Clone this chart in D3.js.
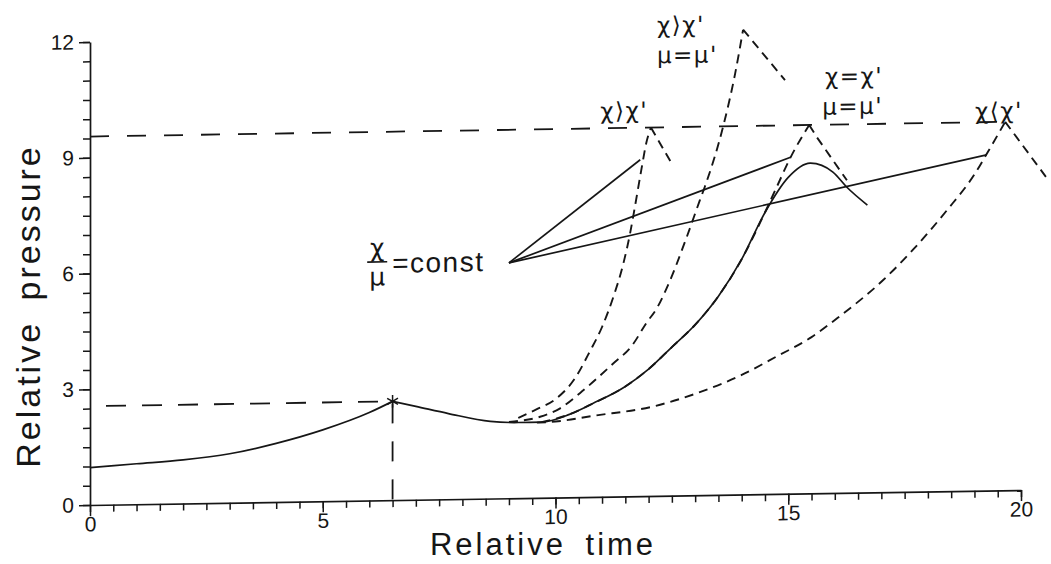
<!DOCTYPE html>
<html>
<head>
<meta charset="utf-8">
<script src="https://cdn.jsdelivr.net/npm/d3@7"></script>
<style>
  html, body { margin: 0; padding: 0; background: #fff; }
  svg { display: block; }
</style>
</head>
<body>
<svg id="chart" width="1051" height="564"></svg>
<script>
// ---- data: relative time (t) vs relative pressure (p) ----
const xTicks = [0, 5, 10, 15, 20];
const yTicks = [0, 3, 6, 9, 12];

// measured pressure history (solid)
const measuredRise = [[0,0.97],[1,1.05],[2,1.13],[3,1.27],[4,1.52],[5,1.85],[6,2.28],[6.5,2.56]];
const measuredLater = [[6.5,2.56],[7,2.42],[7.7,2.22],[8.6,2.0],[9.2,1.96],[9.7,1.96],[10.3,2.15],[10.8,2.42],
  [11.5,2.85],[12,3.29],[12.5,3.85],[13,4.42],[13.5,5.15],[14,6.1],[14.5,7.3],[15,8.2],[15.47,8.56],
  [15.96,8.32],[16.26,7.92],[16.7,7.45]];

// computed histories (dashed): rise up to the peak, then the fall
const chiGreaterRise = [[9.2,2.08],[9.6,2.3],[10.0,2.55],[10.4,3.05],[10.75,3.8],[11.0,4.4],[11.25,5.2],
  [11.45,6.0],[11.6,6.8],[11.72,7.6],[11.85,8.5],[11.95,9.15],[12.05,9.55]];
const chiGreaterFall = [[12.05,9.55],[12.5,8.6]];

const chiGreaterMuEqRise = [[9.0,1.98],[9.67,2.1],[10.1,2.31],[10.53,2.7],[11.24,3.45],[11.64,3.9],[11.96,4.5],
  [12.17,4.85],[12.45,5.55],[12.82,6.7],[13.1,7.64],[13.21,8.0],[13.6,9.54],[13.86,10.92],[14.03,12.05]];
const chiGreaterMuEqFall = [[14.03,12.05],[14.93,10.72]];

const chiEqualRise = [[9.7,1.96],[10.3,2.15],[10.8,2.42],[11.5,2.85],[12,3.29],[12.5,3.85],[13,4.42],[13.5,5.15],
  [14,6.1],[14.4,7.05],[14.75,7.95],[15.05,8.72],[15.45,9.55]];
const chiEqualFall = [[15.45,9.55],[15.62,9.22],[16.26,8.1]];

const chiLessRise = [[9.6,1.95],[10.0,1.97],[10.8,2.1],[12.1,2.32],[13.1,2.67],[14.0,3.1],[14.76,3.57],[15.5,4.05],
  [16.05,4.53],[17.04,5.5],[17.7,6.3],[18.4,7.27],[19.0,8.2],[19.3,8.8],[19.66,9.55]];
const chiLessFall = [[19.66,9.55],[20.6,8.0]];

// chi/mu = const rays
const rayOrigin = [9.0, 6.1];
const rayEnds = [[11.82,8.72],[15.05,8.72],[19.26,8.7]];

// reference levels
const firstPeak = [6.5, 2.56];
const maxPressure = 9.55;
const maxPressureEnd = 19.62;

// annotation text and anchor (t, p)
const annotations = [
  { text: "χ⟩χ'", at: [10.96, 10.0] },
  { text: "χ⟩χ'", at: [12.18, 12.2] },
  { text: "μ=μ'", at: [12.18, 11.42] },
  { text: "χ=χ'", at: [15.79, 10.8] },
  { text: "μ=μ'", at: [15.73, 10.02] },
  { text: "χ⟨χ'", at: [19.01, 9.84] }
];
const ratioLabel = { num: "χ", den: "μ", rest: "=const", at: [6.17, 6.18] };

// ---- layout ----
const svg = d3.select("#chart");
const ink = "#161616";
const x = d3.scaleLinear().domain([0, 20]).range([0, 931]);
const y = d3.scaleLinear().domain([0, 12]).range([463, 0]);

// the plotted sheet is slightly sheared
const g = svg.append("g").attr("transform", "translate(90,42) skewY(-0.92)");

const tickFont = "'Liberation Sans', Arial, sans-serif";

// x axis: minor ticks every 0.5, labelled majors
const minorX = d3.range(0, 20.001, 0.5);
g.append("g").attr("transform", `translate(0,${y(0)})`)
  .call(d3.axisBottom(x).tickValues(minorX).tickSize(7).tickSizeOuter(0).tickFormat(""));
const xMajor = g.append("g").attr("transform", `translate(0,${y(0)})`)
  .call(d3.axisBottom(x).tickValues(xTicks).tickSize(11).tickSizeOuter(0).tickFormat(d3.format("d")));
xMajor.select(".domain").remove();
xMajor.selectAll("text").attr("y", 11).attr("dy", "0.74em");

const minorY = d3.range(0, 12.001, 0.5);
g.append("g")
  .call(d3.axisLeft(y).tickValues(minorY).tickSize(7).tickSizeOuter(0).tickFormat(""));
const yMajor = g.append("g")
  .call(d3.axisLeft(y).tickValues(yTicks).tickSize(11).tickSizeOuter(0).tickFormat(d3.format("d")));
yMajor.select(".domain").remove();
yMajor.selectAll("text").attr("x", -16);

g.selectAll(".domain").attr("stroke", ink).attr("stroke-width", 1.7);
g.selectAll(".tick line").attr("stroke", ink).attr("stroke-width", 1.5);
g.selectAll(".tick text").attr("fill", ink).attr("font-family", tickFont).attr("font-size", 21);

// reference dashed guides
g.append("line")
  .attr("x1", x(0)).attr("x2", x(maxPressureEnd))
  .attr("y1", y(maxPressure)).attr("y2", y(maxPressure))
  .attr("stroke", ink).attr("stroke-width", 1.8).attr("stroke-dasharray", "19,18");
g.append("line")
  .attr("x1", x(0)).attr("x2", x(firstPeak[0]))
  .attr("y1", y(firstPeak[1])).attr("y2", y(firstPeak[1]))
  .attr("stroke", ink).attr("stroke-width", 1.8).attr("stroke-dasharray", "20,16").attr("stroke-dashoffset", 20);
g.append("line")
  .attr("x1", x(firstPeak[0])).attr("x2", x(firstPeak[0]))
  .attr("y1", y(firstPeak[1])).attr("y2", y(0))
  .attr("stroke", ink).attr("stroke-width", 1.8).attr("stroke-dasharray", "20,18").attr("stroke-dashoffset", -2);

// curve helpers: smooth rise, straight fall
const smooth = d3.line().x(d => x(d[0])).y(d => y(d[1])).curve(d3.curveMonotoneX);
const straight = d3.line().x(d => x(d[0])).y(d => y(d[1]));

function drawPath(d, dashed) {
  g.append("path")
    .attr("d", d)
    .attr("fill", "none")
    .attr("stroke", ink)
    .attr("stroke-width", dashed ? 1.9 : 1.7)
    .attr("stroke-linejoin", "round")
    .attr("stroke-dasharray", dashed ? "9,6" : null);
}

// computed curves
[[chiGreaterRise, chiGreaterFall], [chiGreaterMuEqRise, chiGreaterMuEqFall],
 [chiEqualRise, chiEqualFall], [chiLessRise, chiLessFall]].forEach(([rise, fall]) => {
  drawPath(smooth(rise) + straight(fall), true);
});

// measured curve
drawPath(smooth(measuredRise), false);
drawPath(smooth(measuredLater), false);

// chi/mu = const rays
rayEnds.forEach(end => drawPath(straight([rayOrigin, end]), false));

// first-peak marker
const star = d3.symbol().type(d3.symbolAsterisk || d3.symbolCross).size(110);
g.append("path")
  .attr("d", star())
  .attr("transform", `translate(${x(firstPeak[0])},${y(firstPeak[1])})`)
  .attr("fill", "none").attr("stroke", ink).attr("stroke-width", 1.5);

// annotations
const greekFont = "'DejaVu Sans', 'Noto Sans', sans-serif";
g.selectAll("text.note").data(annotations).join("text")
  .attr("class", "note")
  .attr("x", d => x(d.at[0])).attr("y", d => y(d.at[1]))
  .attr("dominant-baseline", "central")
  .attr("font-family", greekFont).attr("font-size", 23)
  .attr("letter-spacing", 1.5)
  .attr("fill", ink)
  .text(d => d.text);

// chi over mu fraction
const rx = x(ratioLabel.at[0]), ry = y(ratioLabel.at[1]);
g.append("text").attr("x", rx).attr("y", ry - 14).attr("text-anchor", "middle")
  .attr("dominant-baseline", "central")
  .attr("font-family", greekFont).attr("font-size", 25).attr("fill", ink).text(ratioLabel.num);
g.append("line").attr("x1", rx - 10).attr("x2", rx + 10).attr("y1", ry).attr("y2", ry)
  .attr("stroke", ink).attr("stroke-width", 1.6);
g.append("text").attr("x", rx).attr("y", ry + 15).attr("text-anchor", "middle")
  .attr("dominant-baseline", "central")
  .attr("font-family", greekFont).attr("font-size", 25).attr("fill", ink).text(ratioLabel.den);
g.append("text").attr("x", rx + 15).attr("y", ry + 11)
  .attr("font-family", tickFont).attr("font-size", 28).attr("letter-spacing", 1.5)
  .attr("fill", ink).text(ratioLabel.rest);

// axis titles
svg.append("text")
  .attr("x", 543).attr("y", 555).attr("text-anchor", "middle")
  .attr("font-family", tickFont).attr("font-size", 31)
  .attr("letter-spacing", 3).attr("word-spacing", 8)
  .attr("fill", ink).text("Relative time");
svg.append("text")
  .attr("transform", "translate(40,306) rotate(-90)").attr("text-anchor", "middle")
  .attr("font-family", tickFont).attr("font-size", 34)
  .attr("letter-spacing", 3).attr("word-spacing", 8)
  .attr("fill", ink).text("Relative pressure");
</script>
</body>
</html>
